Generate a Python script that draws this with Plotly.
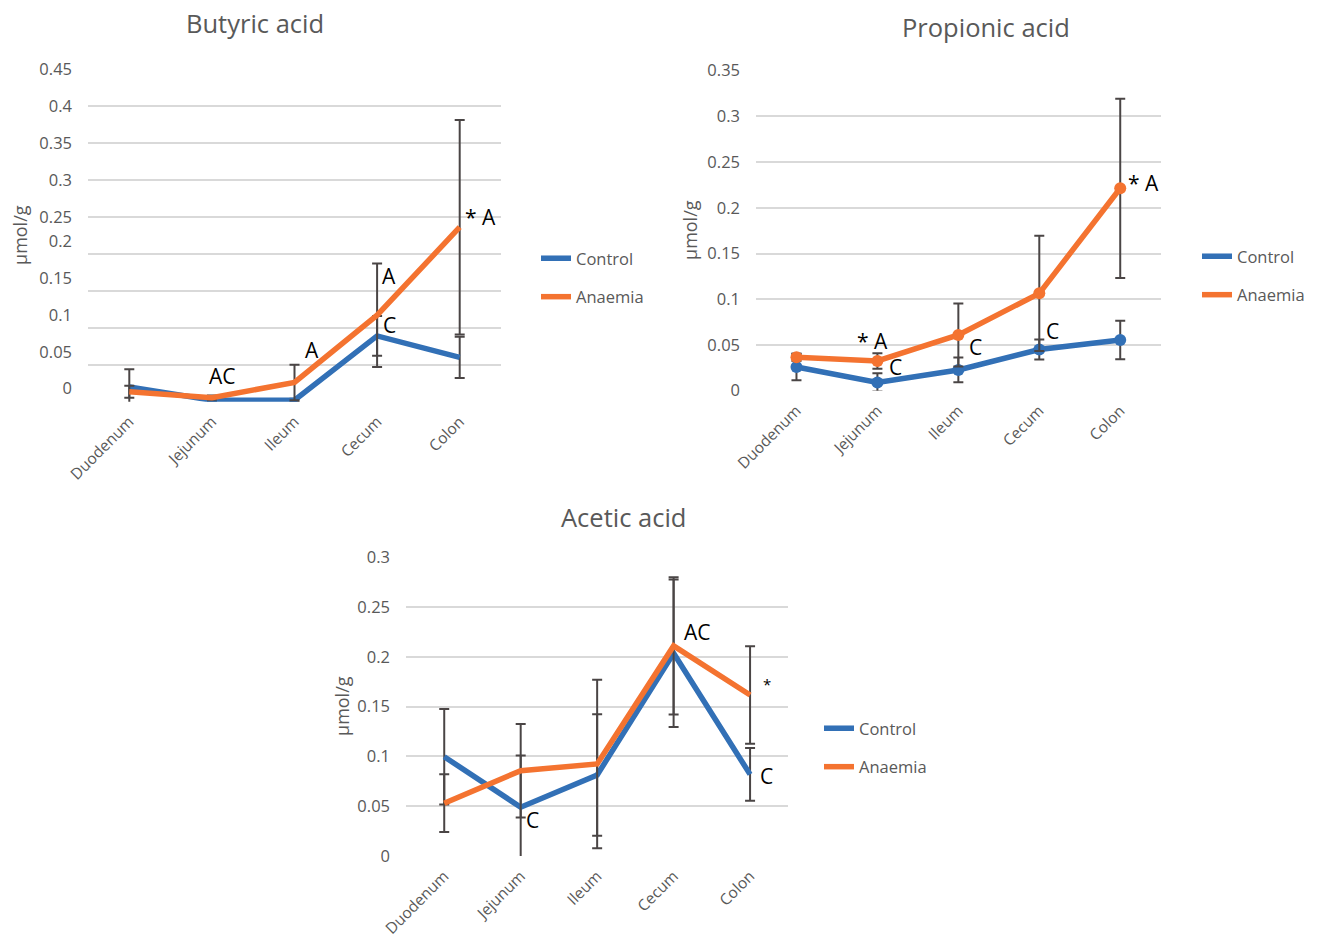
import plotly.graph_objects as go

# Gut segments sampled
segments = ["Duodenum", "Jejunum", "Ileum", "Cecum", "Colon"]

# Butyric acid (µmol/g): mean and SD per segment
butyric_control = [0.020, 0.002, 0.002, 0.089, 0.060]
butyric_control_sd = [0.024, 0.002, 0.002, 0.027, 0.028]
butyric_anaemia = [0.0135, 0.0055, 0.026, 0.117, 0.236]
butyric_anaemia_sd = [0.008, 0.003, 0.024, 0.070, 0.145]

# Propionic acid (µmol/g)
propionic_control = [0.026, 0.009, 0.0227, 0.045, 0.0555]
propionic_control_sd = [0.0145, 0.010, 0.0135, 0.011, 0.021]
propionic_anaemia = [0.0365, 0.0325, 0.061, 0.1065, 0.2214]
propionic_anaemia_sd = [0.004, 0.0085, 0.0345, 0.063, 0.098]

# Acetic acid (µmol/g)
acetic_control = [0.0997, 0.049, 0.0814, 0.2036, 0.082]
acetic_control_sd = [0.048, 0.052, 0.061, 0.074, 0.0265]
acetic_anaemia = [0.053, 0.0857, 0.0924, 0.211, 0.1617]
acetic_anaemia_sd = [0.029, 0.047, 0.0845, 0.069, 0.049]

# Y-axis ticks
butyric_ticks = [0, 0.05, 0.1, 0.15, 0.2, 0.25, 0.3, 0.35, 0.4, 0.45]
butyric_tick_text = ["0", "0.05", "0.1", "0.15", "0.2", "0.25", "0.3", "0.35", "0.4", "0.45"]
propionic_ticks = [0, 0.05, 0.1, 0.15, 0.2, 0.25, 0.3, 0.35]
propionic_tick_text = ["0", "0.05", "0.1", "0.15", "0.2", "0.25", "0.3", "0.35"]
acetic_ticks = [0, 0.05, 0.1, 0.15, 0.2, 0.25, 0.3]
acetic_tick_text = ["0", "0.05", "0.1", "0.15", "0.2", "0.25", "0.3"]

BLUE = "#3270B6"
ORANGE = "#F47330"
ERR = "#4A4545"
GRID = "#D9D9D9"
TXT = "#595959"
FONT = "Open Sans"
W, H = 1320, 937

fig = go.Figure()


def px_x(v):
    return v / W


def px_y(v):
    return 1 - v / H


def add_series(xa, ya, legend, ctrl, ctrl_sd, anae, anae_sd, markers):
    for name, vals, sd, col in [("Control", ctrl, ctrl_sd, BLUE),
                                ("Anaemia", anae, anae_sd, ORANGE)]:
        fig.add_trace(go.Scatter(
            x=segments, y=vals, name=name, mode="lines",
            xaxis=xa, yaxis=ya, legend=legend, legendgroup=legend + name,
            line=dict(color=col, width=5.5),
            error_y=dict(type="data", array=sd, color=ERR, thickness=2, width=5),
        ))
        if markers:
            fig.add_trace(go.Scatter(
                x=segments, y=vals, name=name, mode="markers",
                xaxis=xa, yaxis=ya, legend=legend, showlegend=False,
                marker=dict(size=12, color=col), cliponaxis=False,
            ))


add_series("x", "y", "legend", butyric_control, butyric_control_sd,
           butyric_anaemia, butyric_anaemia_sd, False)
add_series("x2", "y2", "legend2", propionic_control, propionic_control_sd,
           propionic_anaemia, propionic_anaemia_sd, True)
add_series("x3", "y3", "legend3", acetic_control, acetic_control_sd,
           acetic_anaemia, acetic_anaemia_sd, False)

tickfont = dict(family=FONT, size=16.5, color=TXT)
xtickfont = dict(family=FONT, size=15.5, color=TXT)


def xaxis(domain, anchor):
    return dict(domain=domain, anchor=anchor, type="category", range=[-0.5, 4.5],
                showgrid=False, zeroline=False, showline=False, ticks="",
                tickangle=-45, tickfont=xtickfont, ticklabelstandoff=7,
                automargin=False)


def yaxis(domain, anchor, rng, ticks, text):
    return dict(domain=domain, anchor=anchor, range=rng, tickmode="array",
                tickvals=ticks, ticktext=text, showgrid=True, gridcolor=GRID,
                gridwidth=1.5, zeroline=False, showline=False, ticks="",
                tickfont=tickfont, ticklabelstandoff=15, automargin=False)


bx = [px_x(88), px_x(501)]
by = [px_y(401.7), px_y(69)]
px_ = [px_x(756), px_x(1160.7)]
py_ = [px_y(390.7), px_y(70.7)]
ax_ = [px_x(406), px_x(788.3)]
ay_ = [px_y(856), px_y(557.3)]

# Butyric axis: upper labels sit on gridlines, lower labels drawn by an
# overlaid axis nudged upward
upper_text = [t if v >= 0.25 else "" for v, t in zip(butyric_ticks, butyric_tick_text)]
lower_vals = [v for v in butyric_ticks if v < 0.25]
lower_text = [t for v, t in zip(butyric_ticks, butyric_tick_text) if v < 0.25]

fig.update_layout(
    xaxis=xaxis(bx, "y"),
    yaxis=yaxis(by, "x", [0, 0.45], butyric_ticks, upper_text),
    yaxis4=dict(overlaying="y", anchor="x", range=[0, 0.45], tickmode="array",
                tickvals=lower_vals, ticktext=lower_text, showgrid=False,
                zeroline=False, showline=False, ticks="", tickfont=tickfont,
                ticklabelstandoff=15, ticklabelshift=-13, automargin=False),
    xaxis2=xaxis(px_, "y2"),
    yaxis2=yaxis(py_, "x2", [0, 0.35], propionic_ticks, propionic_tick_text),
    xaxis3=xaxis(ax_, "y3"),
    yaxis3=yaxis(ay_, "x3", [0, 0.3], acetic_ticks, acetic_tick_text),
)
# keep the overlay axis drawing something so its labels show
fig.add_trace(go.Scatter(x=[segments[0]], y=[0], xaxis="x", yaxis="y4",
                         mode="markers", marker=dict(opacity=0),
                         showlegend=False, hoverinfo="skip"))

legfont = dict(family=FONT, size=16.5, color=TXT)
leg = dict(font=legfont, bgcolor="rgba(0,0,0,0)", xanchor="left", yanchor="top",
           tracegroupgap=14, itemwidth=30)
fig.update_layout(
    legend=dict(leg, x=px_x(536), y=px_y(241)),
    legend2=dict(leg, x=px_x(1197), y=px_y(239)),
    legend3=dict(leg, x=px_x(819), y=px_y(711)),
)

annotations = []

# Panel titles
for text, cx, cy in [("Butyric acid", 255, 23), ("Propionic acid", 986, 27),
                     ("Acetic acid", 623, 517)]:
    annotations.append(dict(text=text, x=px_x(cx), y=px_y(cy), xref="paper",
                            yref="paper", showarrow=False, xanchor="center",
                            yanchor="middle",
                            font=dict(family=FONT, size=25.5, color=TXT)))

# Y-axis titles
for cx, cy in [(20, 235), (690, 230), (342, 706)]:
    annotations.append(dict(text="µmol/g", x=px_x(cx), y=px_y(cy), xref="paper",
                            yref="paper", showarrow=False, textangle=-90,
                            xanchor="center", yanchor="middle",
                            font=dict(family=FONT, size=18, color=TXT)))


def mark(xa, ya, seg, val, text, dx, dy, size=21):
    annotations.append(dict(text=text, x=seg, y=val, xref=xa, yref=ya,
                            showarrow=False, xshift=dx, yshift=dy,
                            font=dict(family=FONT, size=size, color="black")))


# Butyric significance letters
mark("x", "y", "Jejunum", butyric_anaemia[1], "AC", 11, 22)
mark("x", "y", "Ileum", butyric_anaemia[2], "A", 17, 32)
mark("x", "y", "Cecum", butyric_anaemia[3], "A", 12, 39)
mark("x", "y", "Cecum", butyric_anaemia[3], "C", 12, -10)
mark("x", "y", "Colon", butyric_anaemia[4], "* A", 21, 10)

# Propionic significance letters
mark("x2", "y2", "Jejunum", propionic_anaemia[1], "* A", -5, 20)
mark("x2", "y2", "Jejunum", propionic_anaemia[1], "C", 18, -6)
mark("x2", "y2", "Ileum", propionic_anaemia[2], "C", 17, -12)
mark("x2", "y2", "Cecum", propionic_control[3], "C", 13, 19)
mark("x2", "y2", "Colon", propionic_anaemia[4], "* A", 23, 5)

# Acetic significance letters
mark("x3", "y3", "Jejunum", acetic_control[1], "C", 12, -13)
mark("x3", "y3", "Cecum", acetic_anaemia[3], "AC", 24, 14)
mark("x3", "y3", "Colon", acetic_anaemia[4], "*", 17, 11, size=15)
mark("x3", "y3", "Colon", acetic_control[4], "C", 16, -2)

fig.update_layout(
    annotations=annotations,
    width=W, height=H, autosize=False,
    margin=dict(l=0, r=0, t=0, b=0, pad=0, autoexpand=False),
    paper_bgcolor="white", plot_bgcolor="white",
    font=dict(family=FONT, color=TXT),
    hovermode=False,
)

fig.write_html("out.html")
